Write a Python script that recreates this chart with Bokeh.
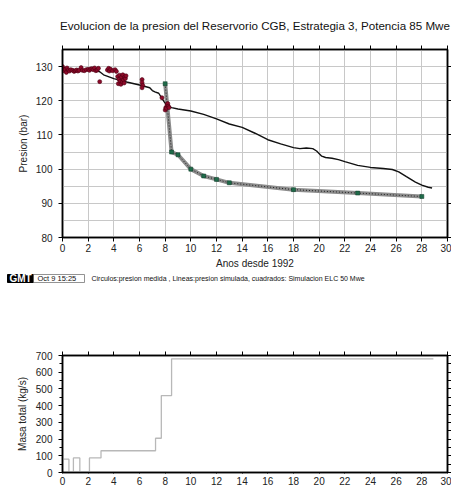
from bokeh.plotting import figure
from bokeh.models import (LinearAxis, SingleIntervalTicker, Range1d,
                          CustomJSTickFormatter, Column)
from bokeh.embed import file_html
from bokeh.resources import INLINE
from bokeh.core.properties import value

FONT = "Liberation Sans"

# ---------------- data ----------------
meas_years = [0.0, 0.05, 0.1, 0.2, 0.3, 0.35, 0.45, 0.55, 0.65, 0.8, 0.9, 1.0, 1.1, 1.2,
              1.3, 1.45, 1.55, 1.7, 1.85, 2.0, 2.1, 2.2, 2.3, 2.4, 2.5, 2.6, 2.7, 2.8,
              2.9, 3.5, 3.6, 3.65, 3.75, 3.9, 4.1, 4.2, 4.3, 4.35, 4.4, 4.45, 4.5, 4.55,
              4.6, 4.65, 4.7, 4.75, 4.8, 4.85, 4.9, 4.95, 6.2, 6.2, 6.25, 6.2, 7.75,
              8.0, 8.05, 8.1, 8.15, 8.2, 8.25, 8.3]
meas_pres = [130.0, 129.3, 128.8, 129.2, 128.3, 129.6, 129.0, 128.7, 129.1, 128.9, 128.6,
             128.8, 129.0, 128.7, 128.9, 129.7, 128.9, 128.8, 129.1, 129.2, 128.9, 129.3,
             129.4, 129.1, 129.6, 128.8, 129.0, 129.5, 125.6, 129.0, 129.5, 128.7, 129.2,
             128.8, 129.1, 128.6, 127.1, 125.0, 126.3, 127.5, 125.7, 124.8, 126.9, 125.5,
             127.6, 126.1, 125.2, 127.0, 126.5, 127.3, 126.2, 125.3, 124.5, 123.8, 120.9,
             117.3, 118.0, 117.8, 118.8, 119.2, 118.4, 118.0]

sim_years = [0, 0.5, 1, 1.5, 2, 2.5, 2.9, 3.2, 4, 5, 6, 6.8, 7.0, 7.2, 7.5, 7.7, 7.9, 8.1,
             8.5, 9, 10, 11, 12, 13, 14, 15, 16, 17, 18, 18.5, 19, 19.5, 19.8, 20.2, 20.5,
             21, 21.5, 22, 23, 24, 25, 25.7, 26.2, 26.8, 27.5, 28, 28.5, 28.8]
sim_pres = [129.2, 129.0, 128.9, 129.0, 129.1, 129.0, 128.5, 127.6, 126.5, 125.5, 124.6,
            123.8, 123.0, 122.6, 122.2, 121.0, 119.8, 118.7, 118.0, 117.6, 117.0, 116.0,
            114.7, 113.2, 112.2, 110.5, 108.6, 107.4, 106.3, 106.0, 106.2, 106.0, 105.3,
            103.8, 103.4, 103.2, 102.8, 102.2, 101.1, 100.5, 100.2, 99.9, 99.2, 97.8,
            96.2, 95.3, 94.7, 94.5]

elc_years = [8, 8.5, 9, 10, 11, 12, 13, 18, 23, 28]
elc_pres = [125, 105, 104.2, 100, 98, 97, 96, 94, 93, 92]

mass_years = [0, 0.5, 0.85, 1.35, 2.1, 3.0, 7.25, 7.7, 8.5, 28.9]
mass_total = [80, 0, 87, 0, 87, 130, 205, 460, 680, 680]

title_text = "Evolucion de la presion del Reservorio CGB, Estrategia 3, Potencia 85 Mwe"
stamp_logo = "GMT"
stamp_date = "Oct  9 15:25"
caption_text = "Circulos:presion medida , Lineas:presion simulada, cuadrados: Simulacion ELC 50 Mwe"

W = 451
empty_fmt = CustomJSTickFormatter(code="return ''")


def style_axis(ax, size="10px"):
    ax.axis_line_color = "black"
    ax.axis_line_width = 1.5
    ax.major_tick_line_color = "black"
    ax.major_tick_out = 4
    ax.major_tick_in = 0
    ax.minor_tick_line_color = None
    ax.major_label_text_font = FONT
    ax.major_label_text_font_size = size
    ax.major_label_text_color = "#222222"
    ax.axis_label_text_font = FONT
    ax.axis_label_text_font_size = "10px"
    ax.axis_label_text_font_style = "normal"
    ax.axis_label_text_color = "#222222"


# ---------------- top figure ----------------
p = figure(width=W, height=272, output_backend="svg", toolbar_location=None,
           x_range=Range1d(0, 30), y_range=Range1d(80, 135),
           min_border_left=62, min_border_right=3, min_border_top=49, min_border_bottom=35)
p.title.text = title_text
p.title.text_font = FONT
p.title.text_font_size = "11.6px"
p.title.text_font_style = "normal"
p.title.align = "center"
p.title.text_color = "#111111"
p.title.standoff = 27
p.outline_line_color = "black"
p.outline_line_width = 1.5

p.xaxis.ticker = SingleIntervalTicker(interval=2)
p.yaxis.ticker = SingleIntervalTicker(interval=10)
p.xaxis.axis_label = "Anos desde 1992"
p.yaxis.axis_label = "Presion (bar)"
for ax in p.xaxis + p.yaxis:
    style_axis(ax)
p.xaxis.major_label_standoff = 2
p.xaxis.axis_label_standoff = 3
p.yaxis.major_label_standoff = 6
p.yaxis.axis_label_standoff = 4

top_ax = LinearAxis(ticker=SingleIntervalTicker(interval=2), formatter=empty_fmt)
style_axis(top_ax)
top_ax.major_label_standoff = 0
p.add_layout(top_ax, "above")
right_ax = LinearAxis(ticker=SingleIntervalTicker(interval=10), formatter=empty_fmt)
style_axis(right_ax)
right_ax.major_label_standoff = 0
p.add_layout(right_ax, "right")

p.xgrid.ticker = SingleIntervalTicker(interval=2)
p.ygrid.ticker = SingleIntervalTicker(interval=5)
p.xgrid.grid_line_color = "#c8c8c8"
p.ygrid.grid_line_color = "#c8c8c8"

# ELC squares line
p.line(elc_years, elc_pres, line_color="#8c8c8c", line_width=4)
p.line(elc_years, elc_pres, line_color="#222222", line_width=1, line_dash="1 2")
p.scatter(elc_years, elc_pres, marker="square", size=4, fill_color="#1f6b4a",
          line_color="#0e3a26", line_width=0.5)
# simulated pressure
p.line(sim_years, sim_pres, line_color="#111111", line_width=1.4)
# measured circles
p.scatter(meas_years, meas_pres, marker="circle", size=4, fill_color="#8e0a2a",
          line_color="#4a0010", line_width=0.6)

# ---------------- stamp row ----------------
s = figure(width=W, height=18, output_backend="svg", toolbar_location=None,
           x_range=Range1d(0, W), y_range=Range1d(18, 0),
           x_axis_location=None, y_axis_location=None,
           min_border=0, min_border_left=0, min_border_right=0,
           min_border_top=0, min_border_bottom=0, outline_line_color=None)
try:
    s.frame_align = False
except AttributeError:
    pass
s.grid.visible = False
s.quad(left=[7], right=[33], top=[2], bottom=[10], fill_color="black", line_color="black")
s.text(x=[20], y=[6.3], text=[stamp_logo], text_font=value(FONT), text_font_size="10px",
       text_font_style="bold", text_color="white", text_align="center",
       text_baseline="middle")
s.quad(left=[33], right=[84], top=[2], bottom=[10], fill_color=None,
       line_color="#777777", line_width=0.8)
s.text(x=[37], y=[6.3], text=[stamp_date], text_font=value(FONT), text_font_size="7.5px",
       text_color="#111111", text_baseline="middle")
s.text(x=[91], y=[6.3], text=[caption_text], text_font=value(FONT), text_font_size="7px",
       text_color="#111111", text_baseline="middle")

# ---------------- bottom figure ----------------
q = figure(width=W, height=197, output_backend="svg", toolbar_location=None,
           x_range=Range1d(0, 30), y_range=Range1d(0, 700),
           min_border_left=62, min_border_right=3, min_border_top=65, min_border_bottom=15)
q.outline_line_color = "black"
q.outline_line_width = 1.5
q.xgrid.grid_line_color = None
q.ygrid.grid_line_color = None
q.xaxis.ticker = SingleIntervalTicker(interval=2)
q.yaxis.ticker = SingleIntervalTicker(interval=100, num_minor_ticks=2)
q.yaxis.axis_label = "Masa total (kg/s)"
for ax in q.xaxis + q.yaxis:
    style_axis(ax)
q.yaxis.minor_tick_line_color = "black"
q.yaxis.minor_tick_out = 3
q.yaxis.minor_tick_in = 0
q.xaxis.major_tick_out = 1
q.xaxis.major_label_standoff = 0
q.yaxis.major_label_standoff = 6
q.yaxis.axis_label_standoff = 5

q_top = LinearAxis(ticker=SingleIntervalTicker(interval=2), formatter=empty_fmt)
style_axis(q_top)
q_top.major_label_standoff = 0
q.add_layout(q_top, "above")
q_right = LinearAxis(ticker=SingleIntervalTicker(interval=50), formatter=empty_fmt)
style_axis(q_right)
q_right.major_label_standoff = 0
q.add_layout(q_right, "right")

q.step(mass_years, mass_total, mode="after", line_color="#b8b8b8", line_width=1.3)

layout = Column(p, s, q, spacing=0)
open("out.html", "w").write(file_html(layout, INLINE))
